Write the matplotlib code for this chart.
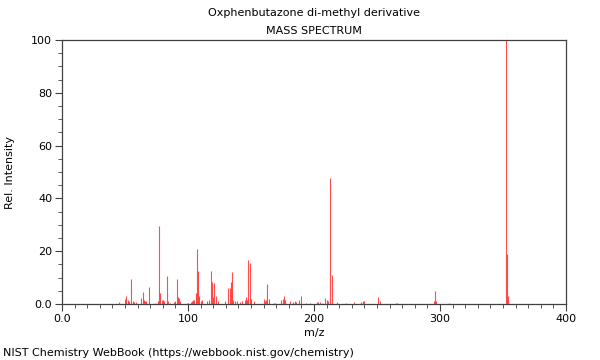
import matplotlib
matplotlib.use("Agg")
import matplotlib.pyplot as plt
from matplotlib.ticker import FixedLocator, FixedFormatter, MultipleLocator

title_line1 = "Oxphenbutazone di-methyl derivative"
title_line2 = "MASS SPECTRUM"
x_label = "m/z"
y_label = "Rel. Intensity"
footer = "NIST Chemistry WebBook (https://webbook.nist.gov/chemistry)"

mz = [45, 50, 51, 52, 53, 55, 56, 57, 59, 63, 64, 65, 66, 67, 69, 74, 76, 77, 78, 79,
      80, 81, 83, 84, 86, 89, 90, 91, 92, 93, 94, 99, 100, 102, 103, 104, 105, 106, 107, 108,
      109, 110, 111, 115, 117, 118, 119, 120, 121, 122, 124, 129, 132, 133, 134, 135, 136, 137, 139, 141,
      143, 145, 146, 147, 148, 149, 150, 152, 160, 161, 162, 163, 164, 168, 169, 174, 175, 176, 177, 181,
      183, 185, 186, 188, 190, 194, 197, 202, 203, 205, 206, 209, 210, 211, 213, 214, 218, 225, 232, 237,
      239, 240, 251, 252, 265, 266, 295, 296, 297, 307, 352, 353, 354]
intensity = [0.7, 2.0, 3.2, 1.5, 1.2, 9.5, 1.2, 0.8, 0.8, 2.1, 4.5, 1.5, 1.2, 1.0, 6.4, 0.5, 1.0, 29.7, 4.3, 1.5,
             1.5, 1.0, 10.6, 1.2, 0.5, 0.8, 1.2, 9.3, 2.5, 2.3, 1.0, 0.5, 0.5, 0.8, 1.2, 1.5, 1.5, 4.3, 21.0, 12.5,
             3.1, 1.0, 1.5, 1.0, 1.5, 12.6, 8.5, 2.8, 7.9, 3.0, 1.0, 1.0, 6.2, 6.2, 8.2, 12.0, 1.5, 1.0, 1.0, 0.8,
             1.0, 1.5, 2.5, 1.5, 16.7, 15.4, 2.0, 1.0, 2.0, 1.0, 1.5, 7.6, 1.8, 0.5, 0.5, 1.5, 2.0, 3.0, 1.5, 1.0,
             0.8, 1.0, 0.8, 1.5, 3.2, 0.5, 0.5, 0.8, 0.8, 0.8, 0.5, 2.4, 1.5, 1.0, 47.8, 11.0, 0.8, 0.5, 0.8, 0.7,
             1.0, 1.2, 2.5, 1.0, 0.4, 0.4, 1.0, 5.0, 1.2, 0.3, 100.0, 19.0, 3.0]

x_ticks = [0, 100, 200, 300, 400]
x_tick_labels = ["0.0", "100", "200", "300", "400"]
y_ticks = [0, 20, 40, 60, 80, 100]
y_tick_labels = ["0.0", "20", "40", "60", "80", "100"]

plt.rcParams['font.family'] = ['DejaVu Sans']
W, H = 600, 360
fig = plt.figure(figsize=(6, 3.6), dpi=100)
ax = fig.add_axes([62 / W, 1 - 304 / H, (566 - 62) / W, (304 - 40) / H])

ax.vlines(mz, 0, intensity, colors='#ff0000', alpha=0.7, linewidth=0.8)

ax.set_xlim(0, 400)
ax.set_ylim(0, 100)
ax.xaxis.set_major_locator(FixedLocator(x_ticks))
ax.xaxis.set_major_formatter(FixedFormatter(x_tick_labels))
ax.yaxis.set_major_locator(FixedLocator(y_ticks))
ax.yaxis.set_major_formatter(FixedFormatter(y_tick_labels))
ax.xaxis.set_minor_locator(MultipleLocator(10))
ax.yaxis.set_minor_locator(MultipleLocator(5))

spine_color = '#404040'
for s in ax.spines.values():
    s.set_color(spine_color)
    s.set_linewidth(0.9)
ax.tick_params(which='major', direction='out', length=5, width=0.8, color=spine_color,
               labelsize=8, pad=2)
ax.tick_params(which='minor', direction='out', length=3, width=0.6, color=spine_color)

fig.text(314 / W, 1 - 13 / H, title_line1, ha='center', va='center', fontsize=8)
fig.text(314 / W, 1 - 31 / H, title_line2, ha='center', va='center', fontsize=8)
fig.text(314 / W, 1 - 333 / H, x_label, ha='center', va='center', fontsize=8)
fig.text(10 / W, 1 - 172 / H, y_label, ha='center', va='center', rotation=90, fontsize=8)
fig.text(3 / W, 1 - 353 / H, footer, ha='left', va='center', fontsize=8)

fig.savefig("out.png", dpi=100)
